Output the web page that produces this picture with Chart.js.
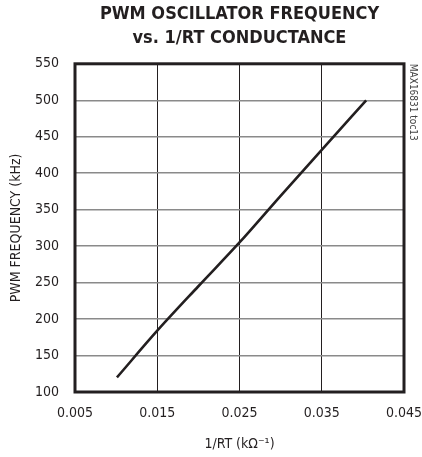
<!DOCTYPE html>
<html>
<head>
<meta charset="utf-8">
<script src="https://cdn.jsdelivr.net/npm/chart.js@4"></script>
<style>
html,body{margin:0;padding:0;background:#fff;}
#wrap{width:422px;height:457px;position:relative;}
</style>
</head>
<body>
<div id="wrap"><canvas id="c" width="422" height="457"></canvas></div>
<script>
const conductance = [0.0101, 0.015, 0.020, 0.025, 0.030, 0.035, 0.0404];
const frequency = [120, 184, 245, 305, 369, 432, 500];
const xTicks = [0.005, 0.015, 0.025, 0.035, 0.045];
const yTicks = [100, 150, 200, 250, 300, 350, 400, 450, 500, 550];
const titleLines = ['PWM OSCILLATOR FREQUENCY', 'vs. 1/RT CONDUCTANCE'];
const xTitle = '1/RT (kΩ⁻¹)';
const yTitle = 'PWM FREQUENCY (kHz)';
const sideNote = 'MAX16831 toc13';

const FONT = '"Liberation Sans Narrow", "DejaVu Sans Condensed", sans-serif';
const INK = '#231f20';

const frame = {
  id: 'frame',
  afterDatasetsDraw(chart) {
    const {ctx, chartArea: a} = chart;
    ctx.save();
    ctx.strokeStyle = INK;
    ctx.lineWidth = 3;
    ctx.strokeRect(a.left, a.top, a.right - a.left, a.bottom - a.top);
    ctx.restore();
  },
  afterDraw(chart) {
    const {ctx, chartArea: a} = chart;
    ctx.save();
    ctx.translate(a.right + 9, a.top);
    ctx.rotate(Math.PI / 2);
    ctx.font = '10px ' + FONT;
    ctx.fillStyle = '#444';
    ctx.textAlign = 'left';
    ctx.textBaseline = 'middle';
    ctx.fillText(sideNote, 0, 0);
    ctx.restore();
  }
};

new Chart(document.getElementById('c'), {
  type: 'line',
  data: {
    datasets: [{
      data: conductance.map((x, i) => ({x, y: frequency[i]})),
      borderColor: INK,
      borderWidth: 2.6,
      pointRadius: 0,
      cubicInterpolationMode: 'monotone',
      fill: false
    }]
  },
  options: {
    responsive: false,
    animation: false,
    devicePixelRatio: 1,
    layout: {padding: {left: 0, right: 18, top: 3, bottom: 0}},
    plugins: {
      legend: {display: false},
      tooltip: {enabled: false},
      title: {
        display: true,
        text: titleLines,
        fullSize: false,
        color: INK,
        font: {family: FONT, size: 18, weight: 'bold', lineHeight: 1.3},
        padding: {top: 0, bottom: 14}
      }
    },
    scales: {
      x: {
        type: 'linear',
        min: 0.005, max: 0.045,
        afterBuildTicks(s) { s.ticks = xTicks.map(v => ({value: v})); },
        afterFit(s) { s.height = 65; s.paddingLeft = 0; s.paddingRight = 0; },
        ticks: {
          callback: v => v.toFixed(3),
          color: INK, padding: 13,
          font: {family: FONT, size: 14}
        },
        grid: {color: INK, lineWidth: 1, drawTicks: false},
        border: {display: false},
        title: {display: true, text: xTitle, color: INK, font: {family: FONT, size: 14}, padding: {top: 2, bottom: 4}}
      },
      y: {
        type: 'linear',
        min: 100, max: 550,
        afterBuildTicks(s) { s.ticks = yTicks.map(v => ({value: v})); },
        afterFit(s) { s.width = 75; },
        ticks: {
          color: INK, padding: 16,
          font: {family: FONT, size: 14}
        },
        grid: {color: '#8a8a8a', lineWidth: 1.5, drawTicks: false},
        border: {display: false},
        title: {display: true, text: yTitle, color: INK, font: {family: FONT, size: 14}, padding: {top: 8, bottom: 0}}
      }
    }
  },
  plugins: [frame]
});
</script>
</body>
</html>
